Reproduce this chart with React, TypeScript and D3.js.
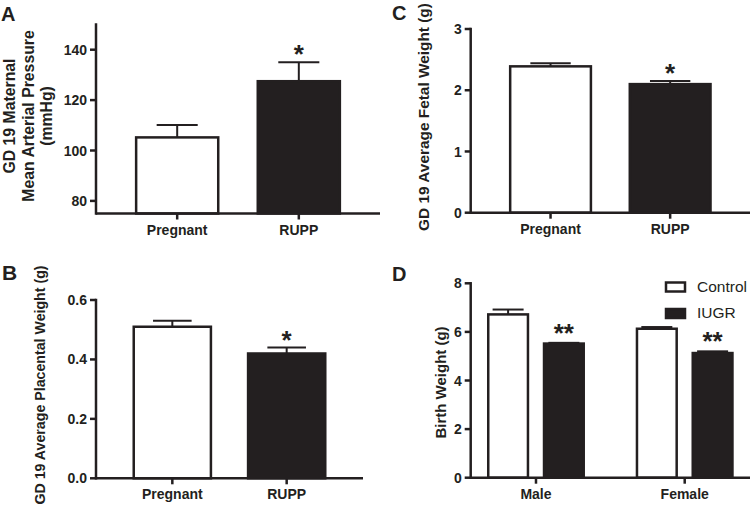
import React from "react";
import * as d3 from "d3";

// ---- Data ----
const groupsAB = ["Pregnant", "RUPP"];
const mapMeans = [105.2, 127.5];
const mapErr = [4.9, 7.5];
const mapTicks = [80, 100, 120, 140];

const placentalMeans = [0.51, 0.42];
const placentalErr = [0.02, 0.02];
const placentalTicks = [0, 0.2, 0.4, 0.6];

const fetalMeans = [2.39, 2.1];
const fetalErr = [0.05, 0.05];
const fetalTicks = [0, 1, 2, 3];

const sexes = ["Male", "Female"];
const birthSeries = ["Control", "IUGR"];
const birthControl = [6.72, 6.13];
const birthControlErr = [0.2, 0.07];
const birthIUGR = [5.52, 5.13];
const birthIUGRErr = [0.03, 0.07];
const birthTicks = [0, 2, 4, 6, 8];

const sigAB = ["", "*"];
const sigD = ["**", "**"];

const INK = "#231f20";
const FONT = "'Liberation Sans', Arial, Helvetica, sans-serif";

type SimpleProps = {
  x0: number; x1: number; yTop: number; yBottom: number;
  domain: [number, number]; ticks: number[]; fmt: (v: number) => string;
  means: number[]; errs: number[]; sig: string[];
  titleLines: string[]; titleXs: number[]; titleY: number; titleSize: number;
  letter: string; letterX: number; letterY: number; letterSize: number;
};

function SimplePanel(p: SimpleProps) {
  const y = d3.scaleLinear().domain(p.domain).range([p.yBottom, p.yTop]);
  const x = d3.scaleBand<string>().domain(groupsAB).range([p.x0, p.x1]).paddingInner(0.325).paddingOuter(0.33);
  const bw = x.bandwidth();
  const capW = bw * 0.5;
  return (
    <g>
      <text x={p.letterX} y={p.letterY} fontSize={p.letterSize} fontWeight="bold" fill={INK} fontFamily={FONT}>{p.letter}</text>
      {p.titleLines.map((t, i) => (
        <text key={i} transform={`translate(${p.titleXs[i]},${p.titleY}) rotate(-90)`} textAnchor="middle"
          fontSize={p.titleSize} fontWeight="bold" fill={INK} fontFamily={FONT}>{t}</text>
      ))}
      {groupsAB.map((g, i) => {
        const bx = x(g)!;
        const cx = bx + bw / 2;
        const top = y(p.means[i]);
        const et = y(p.means[i] + p.errs[i]);
        return (
          <g key={g}>
            <line x1={cx} x2={cx} y1={top} y2={et} stroke={INK} strokeWidth={2} />
            <line x1={cx - capW / 2} x2={cx + capW / 2} y1={et} y2={et} stroke={INK} strokeWidth={2} />
            <rect x={bx} y={top} width={bw} height={p.yBottom - top} fill={i === 0 ? "#fff" : INK} stroke={INK} strokeWidth={2.5} />
            {p.sig[i] && (
              <text x={cx} y={et + 1} textAnchor="middle" fontSize={26} fontWeight="bold" fill={INK} fontFamily={FONT}>{p.sig[i]}</text>
            )}
            <line x1={cx} x2={cx} y1={p.yBottom} y2={p.yBottom + 6} stroke={INK} strokeWidth={2.5} />
            <text x={cx} y={p.yBottom + 21} textAnchor="middle" fontSize={14} fontWeight="bold" fill={INK} fontFamily={FONT}>{g}</text>
          </g>
        );
      })}
      {p.ticks.map((t) => (
        <g key={t}>
          <line x1={p.x0 - 6} x2={p.x0} y1={y(t)} y2={y(t)} stroke={INK} strokeWidth={2.5} />
          <text x={p.x0 - 9} y={y(t)} dy="0.36em" textAnchor="end" fontSize={14} fontWeight="bold" fill={INK} fontFamily={FONT}>{p.fmt(t)}</text>
        </g>
      ))}
      <line x1={p.x0} x2={p.x0} y1={p.yTop} y2={p.yBottom} stroke={INK} strokeWidth={2.5} strokeLinecap="square" />
      <line x1={p.x0} x2={p.x1} y1={p.yBottom} y2={p.yBottom} stroke={INK} strokeWidth={2.5} />
    </g>
  );
}

function BirthPanel() {
  const x0 = 470.7, x1 = 750, yTop = 283.3, yBottom = 477.7;
  const y = d3.scaleLinear().domain([0, 8]).range([yBottom, yTop]);
  const xg = d3.scaleBand<string>().domain(sexes).range([x0, x1]).paddingInner(0.358).paddingOuter(0.118);
  const xs = d3.scaleBand<string>().domain(birthSeries).range([0, xg.bandwidth()]).paddingInner(0.288).paddingOuter(0);
  const bw = xs.bandwidth();
  const capW = 31;
  const vals = [birthControl, birthIUGR];
  const errs = [birthControlErr, birthIUGRErr];
  return (
    <g>
      <text x={392} y={280.7} fontSize={20} fontWeight="bold" fill={INK} fontFamily={FONT}>D</text>
      <text transform={`translate(446,382.5) rotate(-90)`} textAnchor="middle" fontSize={15} fontWeight="bold" fill={INK} fontFamily={FONT}>Birth Weight (g)</text>
      {sexes.map((s, gi) => {
        const gx = xg(s)!;
        const gc = gx + xg.bandwidth() / 2;
        return (
          <g key={s}>
            {birthSeries.map((ser, si) => {
              const bx = gx + xs(ser)!;
              const cx = bx + bw / 2;
              const v = vals[si][gi];
              const top = y(v);
              const et = y(v + errs[si][gi]);
              return (
                <g key={ser}>
                  <line x1={cx} x2={cx} y1={top} y2={et} stroke={INK} strokeWidth={2} />
                  <line x1={cx - capW / 2} x2={cx + capW / 2} y1={et} y2={et} stroke={INK} strokeWidth={2} />
                  <rect x={bx} y={top} width={bw} height={yBottom - top} fill={si === 0 ? "#fff" : INK} stroke={INK} strokeWidth={2.5} />
                  {si === 1 && (
                    <text x={cx} y={et - 1} textAnchor="middle" fontSize={26} fontWeight="bold" fill={INK} fontFamily={FONT}>{sigD[gi]}</text>
                  )}
                </g>
              );
            })}
            <line x1={gc} x2={gc} y1={yBottom} y2={yBottom + 6} stroke={INK} strokeWidth={2.5} />
            <text x={gc} y={yBottom + 21} textAnchor="middle" fontSize={14} fontWeight="bold" fill={INK} fontFamily={FONT}>{s}</text>
          </g>
        );
      })}
      {birthTicks.map((t) => (
        <g key={t}>
          <line x1={x0 - 6} x2={x0} y1={y(t)} y2={y(t)} stroke={INK} strokeWidth={2.5} />
          <text x={x0 - 9} y={y(t)} dy="0.36em" textAnchor="end" fontSize={14} fontWeight="bold" fill={INK} fontFamily={FONT}>{t}</text>
        </g>
      ))}
      <line x1={x0} x2={x0} y1={yTop} y2={yBottom} stroke={INK} strokeWidth={2.5} strokeLinecap="square" />
      <line x1={x0} x2={x1} y1={yBottom} y2={yBottom} stroke={INK} strokeWidth={2.5} />
      {/* legend */}
      {birthSeries.map((ser, si) => (
        <g key={ser}>
          <rect x={666} y={282.5 + si * 26.5} width={19} height={9} fill={si === 0 ? "#fff" : INK} stroke={INK} strokeWidth={2.5} />
          <text x={697} y={291.5 + si * 26.8} fontSize={15.5} fill={INK} fontFamily={FONT}>{ser}</text>
        </g>
      ))}
    </g>
  );
}

export default function App() {
  return (
    <svg width={750} height={511} style={{ position: "absolute", left: 0, top: 0, background: "#fff" }}>
      <rect x={0} y={0} width={750} height={511} fill="#fff" />
      <SimplePanel x0={96} x1={380} yTop={24.5} yBottom={213.5} domain={[75, 150]} ticks={mapTicks} fmt={(v) => String(v)}
        means={mapMeans} errs={mapErr} sig={sigAB}
        titleLines={["GD 19 Maternal", "Mean Arterial Pressure", "(mmHg)"]} titleXs={[15, 34, 52]} titleY={116} titleSize={15.8}
        letter="A" letterX={1} letterY={21} letterSize={20} />
      <SimplePanel x0={96} x1={363} yTop={300} yBottom={478.3} domain={[0, 0.6]} ticks={placentalTicks} fmt={(v) => v.toFixed(1)}
        means={placentalMeans} errs={placentalErr} sig={sigAB}
        titleLines={["GD 19 Average Placental Weight (g)"]} titleXs={[45]} titleY={385} titleSize={14.2}
        letter="B" letterX={2} letterY={280} letterSize={21} />
      <SimplePanel x0={470.7} x1={750} yTop={29} yBottom={212.7} domain={[0, 3]} ticks={fetalTicks} fmt={(v) => String(v)}
        means={fetalMeans} errs={fetalErr} sig={sigAB}
        titleLines={["GD 19 Average Fetal Weight (g)"]} titleXs={[429]} titleY={117} titleSize={15.4}
        letter="C" letterX={392} letterY={19.5} letterSize={20} />
      <BirthPanel />
    </svg>
  );
}
